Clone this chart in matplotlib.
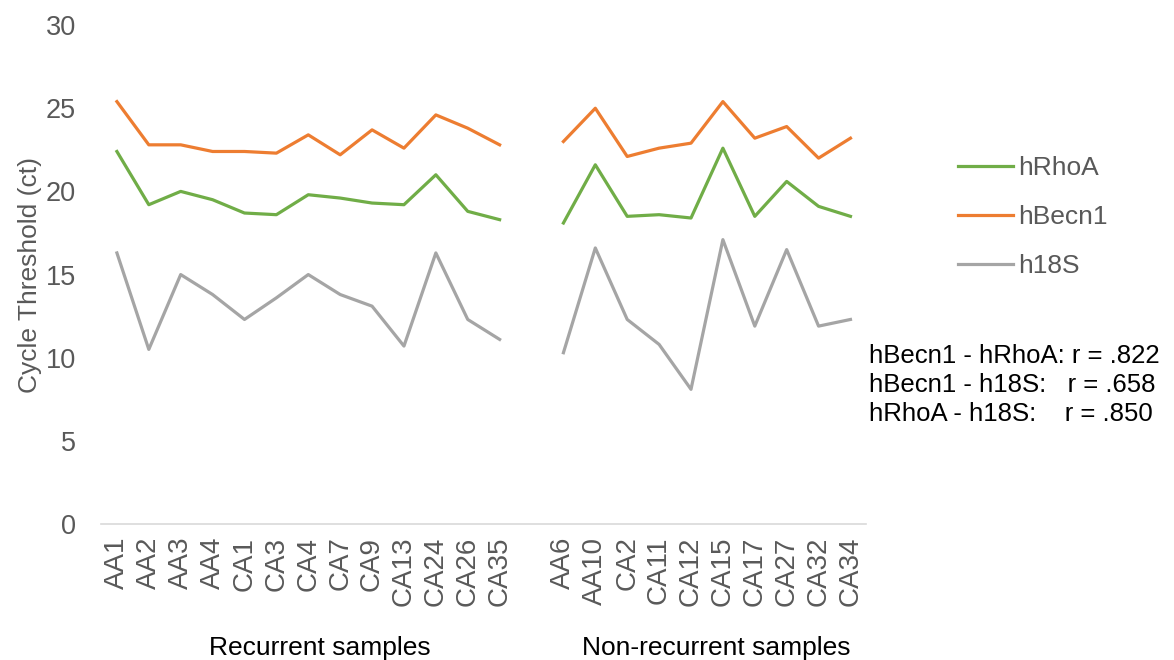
import matplotlib.pyplot as plt
import numpy as np

plt.rcParams['font.family'] = ['Liberation Sans', 'DejaVu Sans']

# sample names
recurrent = ['AA1', 'AA2', 'AA3', 'AA4', 'CA1', 'CA3', 'CA4', 'CA7', 'CA9',
             'CA13', 'CA24', 'CA26', 'CA35']
nonrecurrent = ['AA6', 'AA10', 'CA2', 'CA11', 'CA12', 'CA15', 'CA17', 'CA27',
                'CA32', 'CA34']

# Ct values, recurrent group
rhoa_rec = [22.4, 19.2, 20.0, 19.5, 18.7, 18.6, 19.8, 19.6, 19.3, 19.2, 21.0, 18.8, 18.3]
becn1_rec = [25.4, 22.8, 22.8, 22.4, 22.4, 22.3, 23.4, 22.2, 23.7, 22.6, 24.6, 23.8, 22.8]
s18_rec = [16.3, 10.5, 15.0, 13.8, 12.3, 13.6, 15.0, 13.8, 13.1, 10.7, 16.3, 12.3, 11.1]

# Ct values, non-recurrent group
rhoa_non = [18.1, 21.6, 18.5, 18.6, 18.4, 22.6, 18.5, 20.6, 19.1, 18.5]
becn1_non = [23.0, 25.0, 22.1, 22.6, 22.9, 25.4, 23.2, 23.9, 22.0, 23.2]
s18_non = [10.3, 16.6, 12.3, 10.8, 8.1, 17.1, 11.9, 16.5, 11.9, 12.3]

group_names = ['Recurrent samples', 'Non-recurrent samples']
corr_lines = ['hBecn1 - hRhoA: r = .822',
              'hBecn1 - h18S:   r = .658',
              'hRhoA - h18S:    r = .850']

# one empty category between the two groups
labels = recurrent + [''] + nonrecurrent
x = np.arange(len(labels))
gap = [np.nan]

fig = plt.figure(figsize=(11.74, 6.6), dpi=100)
ax = fig.add_axes([0.086, 0.206, 0.652, 0.756])

ax.plot(x, rhoa_rec + gap + rhoa_non, color='#70AD47', lw=2.3, label='hRhoA')
ax.plot(x, becn1_rec + gap + becn1_non, color='#ED7D31', lw=2.3, label='hBecn1')
ax.plot(x, s18_rec + gap + s18_non, color='#A5A5A5', lw=2.3, label='h18S')

ax.set_xlim(-0.5, len(labels) - 0.5)
ax.set_ylim(0, 30)
ax.set_yticks(range(0, 31, 5))
ax.set_xticks(x)
ax.set_xticklabels(labels, rotation=90, fontsize=20, color='#595959')
ax.tick_params(axis='y', labelsize=19.5, labelcolor='#595959', length=0, pad=18)
ax.tick_params(axis='x', length=0, pad=9)

for side in ['top', 'right', 'left']:
    ax.spines[side].set_visible(False)
ax.spines['bottom'].set_color('#D9D9D9')
ax.spines['bottom'].set_linewidth(1.2)

ax.set_ylabel('Cycle Threshold (ct)', fontsize=19, color='#595959')
ax.yaxis.set_label_coords(-0.077, 0.5)

# group labels under the tick labels
n1 = len(recurrent)
ax.text((n1 - 1) / 2 + 0.37, -0.2625, group_names[0], transform=ax.get_xaxis_transform(),
        ha='center', va='baseline', fontsize=19, color='black')
ax.text(n1 + 1 + (len(nonrecurrent) - 1) / 2 + 0.29, -0.2625, group_names[1],
        transform=ax.get_xaxis_transform(), ha='center', va='baseline', fontsize=19, color='black')

leg = fig.legend(loc='upper left', bbox_to_anchor=(0.7956, 0.80), frameon=False,
                 fontsize=19, handlelength=2.08, handletextpad=0.19, labelspacing=0.96)
for t in leg.get_texts():
    t.set_color('#595959')

for i, line in enumerate(corr_lines):
    fig.text(0.74, 1 - (356 + 29 * i) / 660, line, fontsize=18.5, color='black',
             ha='left', va='center')

fig.savefig('out.png', dpi=100)
